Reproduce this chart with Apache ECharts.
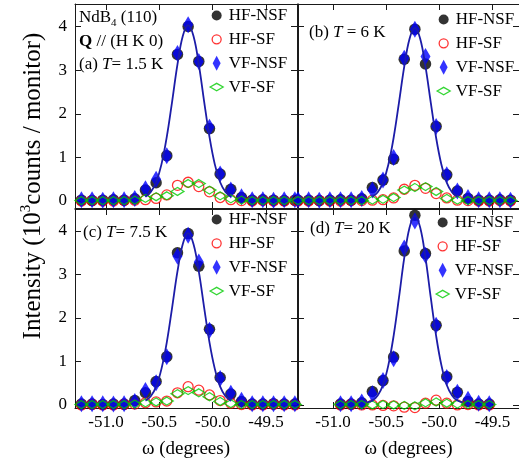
<!DOCTYPE html>
<html>
<head>
<meta charset="utf-8">
<script src="https://cdn.jsdelivr.net/npm/echarts@6/dist/echarts.min.js"></script>
<style>html,body{margin:0;padding:0;background:#fff}#c{width:519px;height:463px}</style>
</head>
<body>
<div id="c"></div>
<script>
// ---------- data ----------
const xTicks = [-51.0, -50.5, -50.0, -49.5];
const yTicks = [0, 1, 2, 3, 4];
const seriesNames = ['HF-NSF', 'HF-SF', 'VF-NSF', 'VF-SF'];
const panelLabels = ['(a) ', '(b) ', '(c) ', '(d) '];
const panelTemps = ['= 1.5 K', ' = 6 K', '= 7.5 K', '= 20 K'];

// omega (degrees) of the measured points
const omegaA = [-51.23,-51.13,-51.03,-50.93,-50.83,-50.73,-50.63,-50.53,-50.43,-50.33,-50.23,-50.13,-50.03,-49.93,-49.83,-49.73,-49.63,-49.53,-49.43,-49.33,-49.23];
const omegaB = [-51.33,-51.23,-51.13,-51.03,-50.93,-50.83,-50.73,-50.63,-50.53,-50.43,-50.33,-50.23,-50.13,-50.03,-49.93,-49.83,-49.73,-49.63,-49.53,-49.43,-49.33,-49.23];
const omegaC = [-51.23,-51.13,-51.03,-50.93,-50.83,-50.73,-50.63,-50.53,-50.43,-50.33,-50.23,-50.13,-50.03,-49.93,-49.83,-49.73,-49.63,-49.53,-49.43,-49.33,-49.23];
const omegaD = [-50.93,-50.83,-50.73,-50.63,-50.53,-50.43,-50.33,-50.23,-50.13,-50.03,-49.93,-49.83,-49.73,-49.63,-49.53];

// (a) T = 1.5 K
const hfNsfA = [0.02,0.01,0.02,0.03,0.02,0.05,0.25,0.42,1.04,3.36,4.00,3.20,1.66,0.62,0.27,0.08,0.02,0.03,0.02,0.01,0.02];
const hfSfA  = [0.00,0.01,0.00,0.00,0.01,0.02,0.03,0.06,0.14,0.36,0.43,0.33,0.21,0.08,0.03,0.01,0.00,0.01,0.00,0.00,0.01];
const vfNsfA = [0.03,0.03,0.02,0.03,0.03,0.06,0.28,0.50,1.04,3.38,4.04,3.20,1.69,0.62,0.25,0.10,0.03,0.03,0.02,0.03,0.03];
const vfSfA  = [0.01,0.01,0.01,0.01,0.01,0.02,0.06,0.10,0.12,0.22,0.40,0.40,0.25,0.12,0.05,0.02,0.01,0.01,0.01,0.01,0.01];
// (b) T = 6 K
const hfNsfB = [0.02,0.02,0.01,0.02,0.03,0.02,0.05,0.31,0.48,0.96,3.25,3.94,3.14,1.71,0.60,0.23,0.06,0.02,0.02,0.03,0.02,0.02];
const hfSfB  = [0.00,0.00,0.01,0.00,0.00,0.01,0.01,0.02,0.03,0.07,0.27,0.36,0.29,0.17,0.07,0.02,0.01,0.00,0.00,0.01,0.00,0.00];
const vfNsfB = [0.03,0.03,0.02,0.03,0.03,0.03,0.06,0.25,0.48,1.00,3.27,3.94,3.31,1.71,0.60,0.23,0.08,0.03,0.03,0.03,0.02,0.03];
const vfSfB  = [0.01,0.01,0.01,0.01,0.01,0.01,0.01,0.02,0.04,0.08,0.25,0.31,0.33,0.22,0.06,0.02,0.01,0.01,0.01,0.01,0.01,0.01];
// (c) T = 7.5 K
const hfNsfC = [0.02,0.02,0.01,0.02,0.02,0.10,0.28,0.54,1.11,3.50,3.94,3.19,1.74,0.63,0.25,0.08,0.02,0.02,0.03,0.02,0.02];
const hfSfC  = [0.00,0.01,0.00,0.00,0.01,0.02,0.05,0.07,0.09,0.28,0.42,0.34,0.23,0.10,0.04,0.01,0.00,0.00,0.01,0.00,0.00];
const vfNsfC = [0.03,0.03,0.03,0.02,0.03,0.08,0.33,0.51,1.11,3.42,3.90,3.29,1.72,0.61,0.27,0.11,0.03,0.03,0.03,0.03,0.03];
const vfSfC  = [0.01,0.01,0.01,0.01,0.01,0.02,0.05,0.07,0.09,0.26,0.33,0.28,0.19,0.08,0.03,0.01,0.01,0.01,0.01,0.01,0.01];
// (d) T = 20 K
const hfNsfD = [0.02,0.02,0.05,0.31,0.56,1.10,3.54,4.36,3.48,1.83,0.65,0.29,0.08,0.02,0.02];
const hfSfD  = [0.00,0.01,0.00,0.00,-0.01,-0.02,-0.05,-0.06,0.04,0.11,0.04,0.00,0.01,0.00,0.00];
const vfNsfD = [0.03,0.03,0.07,0.26,0.56,1.06,3.61,4.23,3.44,1.83,0.63,0.29,0.13,0.04,0.03];
const vfSfD  = [0.01,0.01,0.01,0.00,0.01,0.00,-0.01,-0.02,0.05,0.07,0.04,0.02,0.01,0.01,0.01];

// fitted curves
const fitOmega  = [-50.63,-50.58,-50.53,-50.48,-50.43,-50.38,-50.33,-50.28,-50.23,-50.18,-50.13,-50.08,-50.03,-49.98,-49.93,-49.88,-49.83];
const fitA = [0.10,0.21,0.43,0.84,1.47,2.28,3.13,3.78,4.03,3.78,3.13,2.28,1.47,0.84,0.43,0.21,0.10];
const fitB = [0.10,0.20,0.42,0.83,1.45,2.25,3.08,3.72,3.97,3.72,3.08,2.25,1.45,0.83,0.42,0.20,0.10];
const fitC = [0.10,0.20,0.42,0.83,1.44,2.24,3.07,3.70,3.95,3.70,3.07,2.24,1.44,0.83,0.42,0.20,0.10];
const fitOmegaD = [-50.68,-50.63,-50.58,-50.53,-50.48,-50.43,-50.38,-50.33,-50.28,-50.23,-50.18,-50.13,-50.08,-50.03,-49.98,-49.93,-49.88,-49.83,-49.78];
const fitD = [0.06,0.10,0.22,0.46,0.91,1.59,2.46,3.38,4.08,4.35,4.08,3.38,2.46,1.59,0.91,0.46,0.22,0.10,0.06];

// ---------- chart ----------
const FONT = "'Liberation Serif','Times New Roman',serif";
const AX = '#1a1a1a';
const panels = [
  {grid:{left:75, top:4, width:222, height:204}, x:[-51.29,-49.21], y:[-0.16,4.516], omega:omegaA, d:[hfNsfA,hfSfA,vfNsfA,vfSfA], fx:fitOmega, fy:fitA, xl:false, yl:true},
  {grid:{left:298, top:4, width:222, height:204}, x:[-51.33,-49.25], y:[-0.16,4.516], omega:omegaB, d:[hfNsfB,hfSfB,vfNsfB,vfSfB], fx:fitOmega, fy:fitB, xl:false, yl:false},
  {grid:{left:75, top:209, width:222, height:199}, x:[-51.29,-49.21], y:[-0.07,4.506], omega:omegaC, d:[hfNsfC,hfSfC,vfNsfC,vfSfC], fx:fitOmega, fy:fitC, xl:true, yl:true},
  {grid:{left:298, top:209, width:222, height:199}, x:[-51.33,-49.25], y:[-0.07,4.506], omega:omegaD, d:[hfNsfD,hfSfD,vfNsfD,vfSfD], fx:fitOmegaD, fy:fitD, xl:true, yl:false}
];

const styles = [
  {symbol:'circle', symbolSize:11.5, itemStyle:{color:'#000000'}},
  {symbol:'circle', symbolSize:10, itemStyle:{color:'rgba(0,0,0,0)', borderColor:'#ff0000', borderWidth:1.3}},
  {symbol:'diamond', symbolSize:[10,17], itemStyle:{color:'#0000ff'}},
  {symbol:'diamond', symbolSize:[13,8], itemStyle:{color:'rgba(0,0,0,0)', borderColor:'#00cc00', borderWidth:1.3}}
];
const legendIcons = [
  'path://M0,0M14,16M2,8a5,5 0 1,0 10,0a5,5 0 1,0 -10,0Z',
  'path://M0,0M14,16M2.5,8a4.5,4.5 0 1,0 9,0a4.5,4.5 0 1,0 -9,0Z',
  'path://M0,0M14,16M7,0.5L11,8L7,15.5L3,8Z',
  'path://M0,0M14,16M0.5,8L7,4.3L13.5,8L7,11.7Z'
];
const legendPos = [{left:209, top:7}, {left:436, top:11}, {left:209, top:211}, {left:435, top:214}];

function axisCommon(ticks) {
  return {
    axisLine:{show:true, onZero:false, lineStyle:{color:AX, width:1}},
    axisTick:{show:true, inside:true, length:6, customValues:ticks, lineStyle:{color:AX, width:1}},
    splitLine:{show:false}
  };
}

const xAxis = [], yAxis = [], series = [], legend = [];
panels.forEach((p, gi) => {
  ['bottom','top'].forEach((pos, j) => {
    xAxis.push(Object.assign({type:'value', gridIndex:gi, position:pos, min:p.x[0], max:p.x[1],
      axisLabel:{show: j===0 && p.xl, customValues:xTicks, margin:6, fontFamily:FONT, fontSize:17, color:'#000',
        formatter: v => v.toFixed(1)},
      name: (j===0 && p.xl) ? 'ω (degrees)' : '', nameLocation:'middle', nameGap:32,
      nameTextStyle:{fontFamily:FONT, fontSize:19, color:'#000'}
    }, axisCommon(xTicks)));
  });
  ['left','right'].forEach((pos, j) => {
    yAxis.push(Object.assign({type:'value', gridIndex:gi, position:pos, min:p.y[0], max:p.y[1],
      axisLabel:{show: j===0 && p.yl, customValues:yTicks, margin:8, fontFamily:FONT, fontSize:17, color:'#000'}
    }, axisCommon(yTicks)));
  });
  p.d.forEach((arr, si) => {
    series.push(Object.assign({
      type:'scatter', name:seriesNames[si], xAxisIndex:gi*2, yAxisIndex:gi*2,
      data: p.omega.map((x, i) => [x, arr[i]]), silent:true, animation:false
    }, styles[si]));
  });
  series.push({type:'line', name:'fit', xAxisIndex:gi*2, yAxisIndex:gi*2, smooth:0.4, symbol:'none',
    data: p.fx.map((x, i) => [x, p.fy[i]]), lineStyle:{color:'#1c1ca8', width:1.8}, silent:true, animation:false});
  legend.push({
    orient:'vertical', left:legendPos[gi].left, top:legendPos[gi].top, padding:0,
    itemWidth:14, itemHeight:16, itemGap:6.7, selectedMode:false,
    textStyle:{fontFamily:FONT, fontSize:17, color:'#000', lineHeight:16},
    data: seriesNames.map((n, si) => ({name:n, icon:legendIcons[si], itemStyle:{
      color: styles[si].itemStyle.color, borderColor: styles[si].itemStyle.borderColor || styles[si].itemStyle.color,
      borderWidth: styles[si].itemStyle.borderWidth || 0}}))
  });
});

const rich = {
  n:{fontFamily:FONT, fontSize:17, color:'#000', lineHeight:22},
  i:{fontFamily:FONT, fontSize:17, fontStyle:'italic', color:'#000', lineHeight:22},
  b:{fontFamily:FONT, fontSize:17, fontWeight:'bold', color:'#000', lineHeight:22},
  s:{fontFamily:FONT, fontSize:11, color:'#000', verticalAlign:'bottom'}
};
function txt(x, y, text) {
  return {type:'text', x:x, y:y, silent:true, style:{text:text, rich:rich, verticalAlign:'middle', align:'left'}};
}
const labelPos = [[79,65],[309,33],[83,233],[310,229]];
const graphic = [
  txt(79, 18, '{n|NdB}{s|4}{n| (110)}'),
  txt(79, 42, '{b|Q}{n| // (H K 0)}'),
  {type:'text', x:33, y:186, rotation:Math.PI/2, silent:true,
   style:{text:'{m|Intensity (10}{p|3}{m|counts / monitor)}', align:'center', verticalAlign:'middle',
     rich:{m:{fontFamily:FONT, fontSize:25, color:'#000', lineHeight:28},
           p:{fontFamily:FONT, fontSize:15, color:'#000', verticalAlign:'top'}}}}
];
panelLabels.forEach((l, k) => {
  graphic.push(txt(labelPos[k][0], labelPos[k][1], '{n|' + l + '}{i|T}{n|' + panelTemps[k] + '}'));
});

const chart = echarts.init(document.getElementById('c'), null, {renderer:'canvas'});
chart.setOption({
  animation:false,
  grid: panels.map(p => Object.assign({containLabel:false}, p.grid)),
  xAxis, yAxis, series, legend, graphic
});
</script>
</body>
</html>
